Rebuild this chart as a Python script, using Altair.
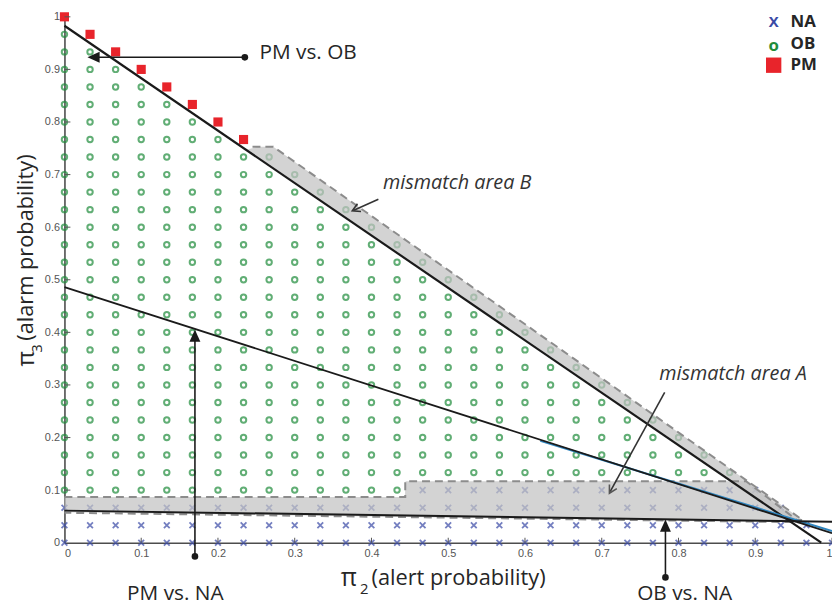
import altair as alt
import pandas as pd

# ---------------- data ----------------
N_STEPS = 30                      # lattice spacing 1/30 on both axes (pi2 + pi3 <= 1)
PM_COLS = [0, 1, 2, 3, 4, 5, 6, 7]  # columns whose top point (pi2+pi3=1) is PM
NA_ROWS = [0, 1, 2]                # rows that are NA over the full width
NA_ROW3_FROM = 14                  # in row 3 the points are NA from column 14 on

X_TICKS = [0, 0.1, 0.2, 0.3, 0.4, 0.5, 0.6, 0.7, 0.8, 0.9, 1]
Y_TICKS = [0, 0.1, 0.2, 0.3, 0.4, 0.5, 0.6, 0.7, 0.8, 0.9, 1]

# decision boundaries (end points)
PM_OB_X = [0.0, 0.986]
PM_OB_Y = [0.983, 0.0]
PM_NA_X = [0.0, 1.0]
PM_NA_Y = [0.486, 0.018]
PM_NA_BLUE_X = [0.62, 1.0]
PM_NA_BLUE_Y = [0.194, 0.022]
OB_NA_X = [0.0, 1.0]
OB_NA_Y = [0.061, 0.040]

# mismatch area A (x, lower, upper)
AREA_A_X = [0.0, 0.4435, 0.4445, 0.888, 0.958]
AREA_A_LO = [0.058, 0.049, 0.049, 0.040, 0.039]
AREA_A_HI = [0.087, 0.087, 0.117, 0.117, 0.039]
# mismatch area B (polygon)
POLY_B_X = [0.237, 0.252, 0.272, 0.962, 0.940, 0.237]
POLY_B_Y = [0.747, 0.753, 0.753, 0.043, 0.046, 0.747]

# dashed outlines
OUT_A_X = [0.0, 0.444, 0.444, 0.888, 0.958, 0.0]
OUT_A_Y = [0.087, 0.087, 0.117, 0.117, 0.039, 0.057]
OUT_B_X = [0.245, 0.272, 0.962, 0.940]
OUT_B_Y = [0.753, 0.753, 0.043, 0.043]

# ---------------- build tables ----------------
pts = []
for j in range(N_STEPS + 1):
    for i in range(N_STEPS + 1 - j):
        if i + j == N_STEPS and i in PM_COLS:
            c = "PM"
        elif j in NA_ROWS or (j == 3 and i >= NA_ROW3_FROM):
            c = "NA"
        else:
            c = "OB"
        pts.append({"x": i / N_STEPS, "y": j / N_STEPS, "cls": c})
pts = pd.DataFrame(pts)

W, H = 775, 531
xs = alt.Scale(domain=[0, 1], nice=False, zero=False)
ys = alt.Scale(domain=[0, 1], nice=False, zero=False)
AXX = alt.Axis(values=X_TICKS, format="~g", title=None, grid=False, ticks=False,
               domainColor="#4d4d4d", domainWidth=1.6, labelFont="Liberation Sans",
               labelFontSize=11, labelColor="#555555", labelPadding=5)
AXY = alt.Axis(values=Y_TICKS, format="~g", title=None, grid=False, ticks=False,
               domainColor="#4d4d4d", domainWidth=1.6, labelFont="Liberation Sans",
               labelFontSize=11, labelColor="#555555", labelPadding=5)
X0 = lambda f: alt.X(f, scale=xs, axis=AXX)
Y0 = lambda f: alt.Y(f, scale=ys, axis=AXY)

BLUE = "#3a4aa6"
GREEN = "#1f8c3b"
RED = "#e8242b"
TXT = "#262626"
FONT = "Open Sans"

xt = alt.Chart(pd.DataFrame({"v": X_TICKS[1:]})).mark_rule(color="#555555", strokeWidth=1).encode(
    x=X0("v:Q"), y=alt.value(H), y2=alt.value(H - 5))
yt = alt.Chart(pd.DataFrame({"v": Y_TICKS[1:]})).mark_rule(color="#555555", strokeWidth=1).encode(
    y=Y0("v:Q"), x=alt.value(0), x2=alt.value(6))

CROSS = "M-1,-1L1,1M-1,1L1,-1"
na = alt.Chart(pts[pts.cls == "NA"]).mark_point(shape=CROSS, filled=False, color=BLUE,
                                                 strokeWidth=1.8, size=34).encode(x=X0("x:Q"), y=Y0("y:Q"))
ob = alt.Chart(pts[pts.cls == "OB"]).mark_point(shape="circle", filled=False, color=GREEN,
                                                 strokeWidth=2.0, size=30).encode(x=X0("x:Q"), y=Y0("y:Q"))
pm = alt.Chart(pts[pts.cls == "PM"]).mark_point(shape="square", filled=True, color=RED, opacity=1,
                                                 size=85).encode(x=X0("x:Q"), y=Y0("y:Q"))

areaA = alt.Chart(pd.DataFrame({"x": AREA_A_X, "lo": AREA_A_LO, "hi": AREA_A_HI})).mark_area(
    color="#c2c2c2", opacity=0.72).encode(x=X0("x:Q"), y=Y0("lo:Q"), y2=alt.Y2("hi"))

areaB = alt.Chart(pd.DataFrame({"x": POLY_B_X, "y": POLY_B_Y, "k": list(range(len(POLY_B_X)))})).mark_line(
    fill="#c2c2c2", fillOpacity=0.72, strokeOpacity=0, stroke="#c2c2c2").encode(
    x=X0("x:Q"), y=Y0("y:Q"), order="k:Q")

def poly(xv, yv, color, width, dash=None):
    d = pd.DataFrame({"x": xv, "y": yv, "k": list(range(len(xv)))})
    kw = dict(color=color, strokeWidth=width)
    if dash:
        kw["strokeDash"] = dash
    return alt.Chart(d).mark_line(**kw).encode(x=X0("x:Q"), y=Y0("y:Q"), order="k:Q")

outA = poly(OUT_A_X, OUT_A_Y, "#8c8c8c", 2, [8, 5])
outB = poly(OUT_B_X, OUT_B_Y, "#8c8c8c", 2, [8, 5])

l1 = poly(PM_OB_X, PM_OB_Y, "#1a1a1a", 2.2)
l2b = poly(PM_NA_BLUE_X, PM_NA_BLUE_Y, "#2f86c0", 2.0)
l2 = poly(PM_NA_X, PM_NA_Y, "#1a1a1a", 1.8)
l3 = poly(OB_NA_X, OB_NA_Y, "#1a1a1a", 2.0)

# arrows
SHAFT_X = [0.235, 0.170, 0.783, 0.409, 0.782]
SHAFT_Y = [0.923, -0.026, -0.066, 0.653, 0.286]
SHAFT_X2 = [0.040, 0.170, 0.783, 0.377, 0.711]
SHAFT_Y2 = [0.923, 0.390, 0.032, 0.632, 0.097]
SHAFT_C = ["#1a1a1a", "#1a1a1a", "#1a1a1a", "#333333", "#333333"]
shafts = alt.Chart(pd.DataFrame({"x": SHAFT_X, "y": SHAFT_Y, "x2": SHAFT_X2, "y2": SHAFT_Y2, "c": SHAFT_C})).mark_rule(
    strokeWidth=1.6).encode(x=X0("x:Q"), y=Y0("y:Q"), x2="x2:Q", y2="y2:Q", color=alt.Color("c:N", scale=None))

HEAD = "M0,0L2,-0.9L2,0.9Z"
OPEN = "M2,-1.1L0,0L2,1.1"
def head(x, y, ang, shape, filled, size, color):
    return alt.Chart(pd.DataFrame({"x": [x], "y": [y]})).mark_point(
        shape=shape, filled=filled, size=size, angle=ang, color=color, opacity=1, strokeWidth=1.6).encode(
        x=X0("x:Q"), y=Y0("y:Q"))

h1 = head(0.030, 0.923, 0, HEAD, True, 150, "#1a1a1a")
h2 = head(0.170, 0.405, 90, HEAD, True, 150, "#1a1a1a")
h3 = head(0.783, 0.044, 90, HEAD, True, 150, "#1a1a1a")
h4 = head(0.375, 0.631, 335, OPEN, False, 60, "#333333")
h5 = head(0.710, 0.094, 299, OPEN, False, 60, "#555555")

DOT_X = [0.235, 0.170, 0.783]
DOT_Y = [0.923, -0.026, -0.066]
dots = alt.Chart(pd.DataFrame({"x": DOT_X, "y": DOT_Y})).mark_point(
    shape="circle", filled=True, size=45, color="#1a1a1a", opacity=1).encode(x=X0("x:Q"), y=Y0("y:Q"))

def text(x, y, s, size, align="left", style="normal", weight="normal", color=TXT, angle=0):
    return alt.Chart(pd.DataFrame({"x": [x], "y": [y], "t": [s]})).mark_text(
        font=FONT, fontSize=size, align=align, baseline="middle", fontStyle=style,
        fontWeight=weight, color=color, angle=angle).encode(x=X0("x:Q"), y=Y0("y:Q"), text="t:N")

t1 = text(0.254, 0.932, "PM vs. OB", 21)
t2 = text(0.415, 0.684, "mismatch area B", 20, style="italic", color="#333333")
t3 = text(0.775, 0.320, "mismatch area A", 20, style="italic", color="#333333")
t4 = text(0.1445, -0.098, "PM vs. NA", 21, align="center")
t5 = text(0.808, -0.098, "OB vs. NA", 21, align="center")

# axis titles
xa = text(0.360, -0.068, "π", 25)
xb = text(0.385, -0.088, "2", 15)
xc = text(0.400, -0.068, "(alert probability)", 22)
ya = text(-0.049, 0.335, "π", 24, angle=270)
yb = text(-0.036, 0.361, "3", 15, angle=270)
yc = text(-0.050, 0.384, "(alarm probability)", 22, angle=270)

# legend
LEG_X = 0.924
LEG_TX = 0.946
LEG_Y = [0.990, 0.949, 0.908]
lg1 = text(LEG_X, LEG_Y[0], "X", 15, align="center", weight="bold", color=BLUE)
lg2 = text(LEG_X, LEG_Y[1] - 0.004, "o", 17, align="center", weight="bold", color=GREEN)
lg3 = alt.Chart(pd.DataFrame({"x": [LEG_X], "y": [LEG_Y[2]]})).mark_point(
    shape="square", filled=True, size=240, color=RED, opacity=1).encode(x=X0("x:Q"), y=Y0("y:Q"))
lt1 = text(LEG_TX, LEG_Y[0], "NA", 17, weight="bold")
lt2 = text(LEG_TX, LEG_Y[1], "OB", 17, weight="bold")
lt3 = text(LEG_TX, LEG_Y[2], "PM", 17, weight="bold")

chart = alt.layer(
    na, ob, pm, areaA, areaB, outA, outB, l1, l2b, l2, l3, xt, yt,
    shafts, h1, h2, h3, h4, h5, dots, t1, t2, t3, t4, t5, xa, xb, xc, ya, yb, yc,
    lg1, lg2, lg3, lt1, lt2, lt3,
).properties(
    width=W, height=H,
    autosize=alt.AutoSizeParams(type="none"),
    padding={"left": 57, "top": 6, "right": 0, "bottom": 61},
).configure_view(stroke=None)

chart.save("out.html", embed_options={"renderer": "svg", "actions": False})
